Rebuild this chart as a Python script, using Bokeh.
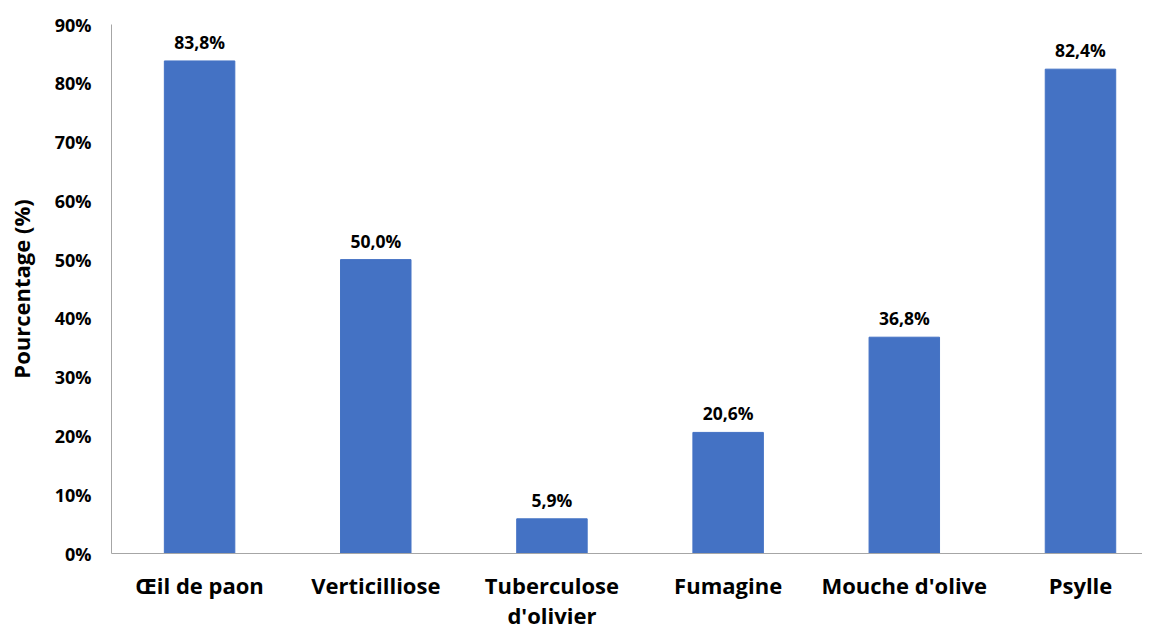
from bokeh.plotting import figure
from bokeh.models import ColumnDataSource, Range1d, FixedTicker, PrintfTickFormatter
from bokeh.core.properties import value
from bokeh.embed import file_html
from bokeh.resources import INLINE

categories = ["Œil de paon", "Verticilliose", "Tuberculose\nd'olivier", "Fumagine", "Mouche d'olive", "Psylle"]
percentages = [83.8, 50.0, 5.9, 20.6, 36.8, 82.4]
y_ticks = [0, 10, 20, 30, 40, 50, 60, 70, 80, 90]

xs = list(range(len(categories)))
labels = [f"{v:.1f}%".replace(".", ",") for v in percentages]
src = ColumnDataSource(dict(x=xs, top=percentages, label=labels))

FONT = "Open Sans"

p = figure(width=1142, height=622, frame_width=1031, frame_height=529,
           output_backend="svg", toolbar_location=None,
           x_range=Range1d(-0.5, 5.352), y_range=Range1d(0, 90),
           min_border_left=111, min_border_right=0, min_border_top=24, min_border_bottom=69)
p.outline_line_color = None
p.xgrid.grid_line_color = None
p.ygrid.grid_line_color = None
p.background_fill_color = "white"
p.border_fill_color = "white"

p.vbar(x="x", top="top", width=0.4, source=src, color="#4472C4")
p.text(x="x", y="top", text="label", source=src, text_align="center", text_baseline="bottom",
       y_offset=-7, text_font=value(FONT), text_font_style="bold", text_font_size="17.5px",
       text_color="black")

p.xaxis.ticker = FixedTicker(ticks=xs)
p.xaxis.major_label_overrides = {i: c for i, c in enumerate(categories)}
p.yaxis.ticker = FixedTicker(ticks=y_ticks)
p.yaxis.formatter = PrintfTickFormatter(format="%d%%")

for ax in (p.xaxis[0], p.yaxis[0]):
    ax.axis_line_color = "#a6a6a6"
    ax.axis_line_width = 1
    ax.major_tick_line_color = None
    ax.minor_tick_line_color = None
    ax.major_label_text_font = FONT
    ax.major_label_text_font_style = "bold"
    ax.major_label_text_color = "black"

p.xaxis.major_label_text_font_size = "22px"
p.xaxis.major_label_standoff = 10
p.xaxis.major_label_text_line_height = 1.0
p.yaxis.major_label_text_font_size = "18px"
p.yaxis.major_label_standoff = 14
p.yaxis.axis_label = "Pourcentage (%)"
p.yaxis.axis_label_text_font = FONT
p.yaxis.axis_label_text_font_style = "bold"
p.yaxis.axis_label_text_font_size = "22px"
p.yaxis.axis_label_text_color = "black"
p.yaxis.axis_label_standoff = 16

open("out.html", "w").write(file_html(p, INLINE))
